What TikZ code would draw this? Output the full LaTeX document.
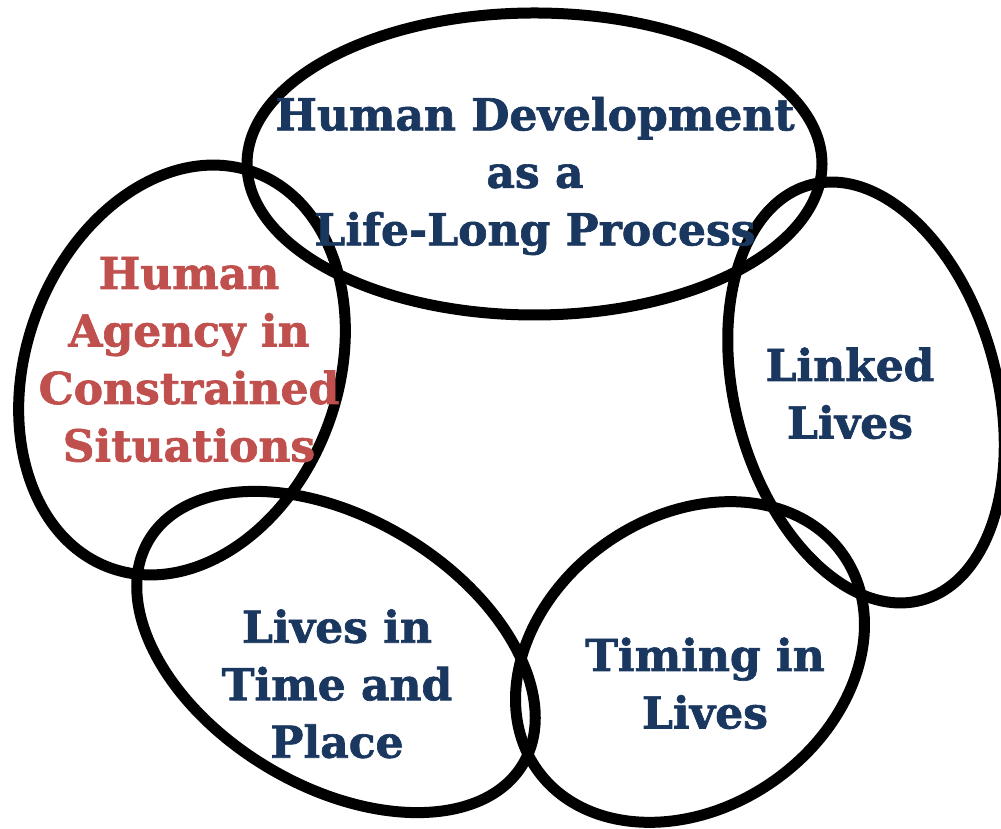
\documentclass[tikz,border=0pt]{standalone}
\usepackage{fontspec}
\setmainfont{DejaVu Serif}[BoldFeatures={FakeBold=1.5}]
\definecolor{navy}{HTML}{1A3760}
\definecolor{brick}{HTML}{C0504D}
\begin{document}
\begin{tikzpicture}[x=1pt,y=1pt,
  ring/.style={draw=black,line width=11pt},
  lbl/.style={align=center,inner sep=0pt,font=\fontsize{44}{57.5}\selectfont\bfseries,text=navy},
  redlbl/.style={lbl,text=brick}]
\useasboundingbox (0,0) rectangle (1001,829);
% rings
\draw[ring] (534.5,665) ellipse [x radius=287.5, y radius=151];
\draw[ring,rotate around={-20:(182,459)}] (182,459) ellipse [x radius=156, y radius=210.5];
\draw[ring,rotate around={15:(866,436.5)}] (866,436.5) ellipse [x radius=131, y radius=215];
\draw[ring,rotate around={-31:(336,177)}] (336,177) ellipse [x radius=218, y radius=134];
\draw[ring,rotate around={35:(690,167)}] (690,167) ellipse [x radius=187, y radius=145.5];
% labels
\node[lbl] (hd) at (535,653) {Human Development\\as a\\Life-Long Process};
\node[redlbl] (ha) at (189,469.5) {Human\\Agency in\\Constrained\\Situations};
\node[lbl] (ll) at (850,435.7) {Linked\\Lives};
\node[lbl] (lt) at (337,145.2) {Lives in\\Time and\\Place};
\node[lbl] (tl) at (705,145.7) {Timing in\\Lives};
\end{tikzpicture}
\end{document}
